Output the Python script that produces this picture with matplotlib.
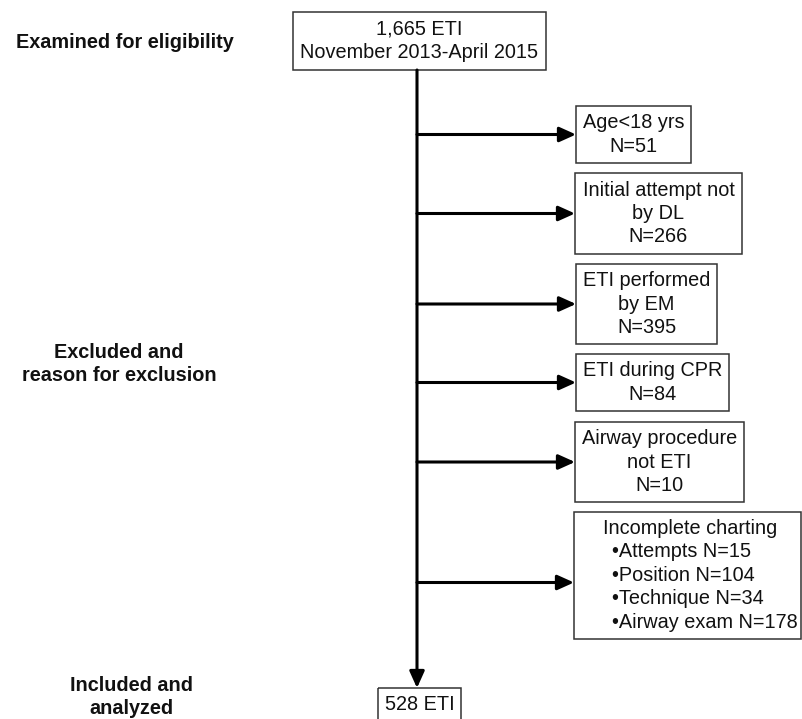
import matplotlib.pyplot as plt
from matplotlib.patches import Rectangle

plt.rcParams['font.family'] = ['Liberation Sans', 'DejaVu Sans']

W, H = 802, 719
FS = 14.3
LS = 1.29

# flow content
start_lines = ['1,665 ETI', 'November 2013-April 2015']
final_label = '528 ETI'
stage_labels = ['Examined for eligibility',
                'Excluded and\nreason for exclusion',
                'Included and\nanalyzed']
excl_reasons = ['Age<18 yrs', 'Initial attempt not\nby DL', 'ETI performed\nby EM',
                'ETI during CPR', 'Airway procedure\nnot ETI']
excl_counts = [51, 266, 395, 84, 10]
charting_title = 'Incomplete charting'
charting_items = ['Attempts', 'Position', 'Technique', 'Airway exam']
charting_counts = [15, 104, 34, 178]

# layout in pixels (x0, y0, x1, y1), y downward
start_box = (293, 12, 546, 70)
final_box = (378, 688, 461, 722)
excl_boxes = [(576, 106, 691, 163), (575, 173, 742, 254), (576, 264, 717, 344),
              (576, 354, 729, 411), (575, 422, 744, 502), (574, 512, 801, 639)]
stage_pos = [(125, 42), (119, 364), (131, 697)]
spine_x = 417
bullet_x = 612

fig = plt.figure(figsize=(W / 100, H / 100), dpi=100)
ax = fig.add_axes([0, 0, 1, 1])
ax.set_xlim(0, W)
ax.set_ylim(H, 0)
ax.axis('off')


def box(b, text=None):
    x0, y0, x1, y1 = b
    ax.add_patch(Rectangle((x0, y0), x1 - x0, y1 - y0, fill=False,
                           edgecolor='#333333', linewidth=1.1))
    if text is not None:
        ax.text((x0 + x1) / 2, (y0 + y1) / 2, text, ha='center', va='center',
                fontsize=FS, linespacing=LS, color='#111111')


def arrow(p0, p1):
    ax.annotate('', xy=p1, xytext=p0,
                arrowprops=dict(arrowstyle='-|>,head_length=1.0,head_width=0.45',
                                mutation_scale=10, lw=2.2, color='black',
                                shrinkA=0, shrinkB=0))


box(start_box, '\n'.join(start_lines))
box(final_box, final_label)
arrow((spine_x, start_box[3]), (spine_x, final_box[1]))

texts = [f'{r}\nN={n}' for r, n in zip(excl_reasons, excl_counts)]
for b, t in zip(excl_boxes[:-1], texts):
    box(b, t)
    arrow((spine_x, (b[1] + b[3]) / 2), (b[0], (b[1] + b[3]) / 2))

# incomplete charting box
b = excl_boxes[-1]
box(b)
arrow((spine_x, (b[1] + b[3]) / 2 + 7), (b[0], (b[1] + b[3]) / 2 + 7))
ax.text(690, b[1] + 16, charting_title, ha='center', va='center', fontsize=FS, color='#111111')
bullets = '\n'.join(f'\u2022{k} N={n}' for k, n in zip(charting_items, charting_counts))
ax.text(bullet_x, b[1] + 75, bullets, ha='left', va='center', fontsize=FS,
        linespacing=LS, color='#111111')

for (x, y), t in zip(stage_pos, stage_labels):
    ax.text(x, y, t, ha='center', va='center', fontsize=FS, fontweight='bold',
            linespacing=LS, color='#111111')

fig.savefig('out.png', dpi=100)
